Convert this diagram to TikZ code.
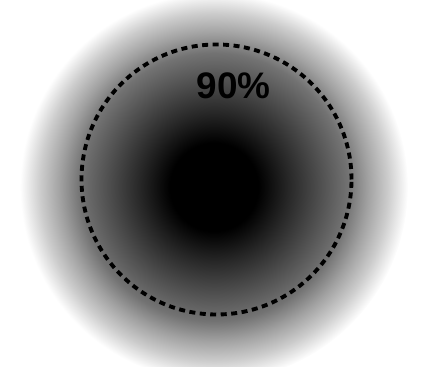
\documentclass[tikz,border=0pt]{standalone}
\usepackage{fontspec}
\setmainfont{Liberation Sans}
\usepackage{tikz}
\pgfdeclareradialshading{glow}{\pgfpoint{0bp}{0bp}}{color(0bp)=(black); color(5.7bp)=(black); color(7bp)=(black!95); color(9.5bp)=(black!85); color(12.1bp)=(black!75); color(14.7bp)=(black!65); color(17.3bp)=(black!55); color(19.8bp)=(black!37); color(22.4bp)=(black!20); color(25bp)=(white); color(50bp)=(white)}

\begin{document}
\begin{tikzpicture}
\useasboundingbox (0,0) rectangle (8.52,7.34);
\clip (0,0) rectangle (8.52,7.34);

\coordinate (G) at (4.28,3.60);
\coordinate (C) at (4.33,3.75);

\shade[shading=glow] (G) circle (3.88);

\draw[line width=2.2pt, dash pattern=on 0.12cm off 0.09cm] (C) circle (2.7);

\node[font=\fontsize{21}{24}\selectfont\bfseries] (pct) at (4.67,5.63) {90\%};
\end{tikzpicture}
\end{document}
